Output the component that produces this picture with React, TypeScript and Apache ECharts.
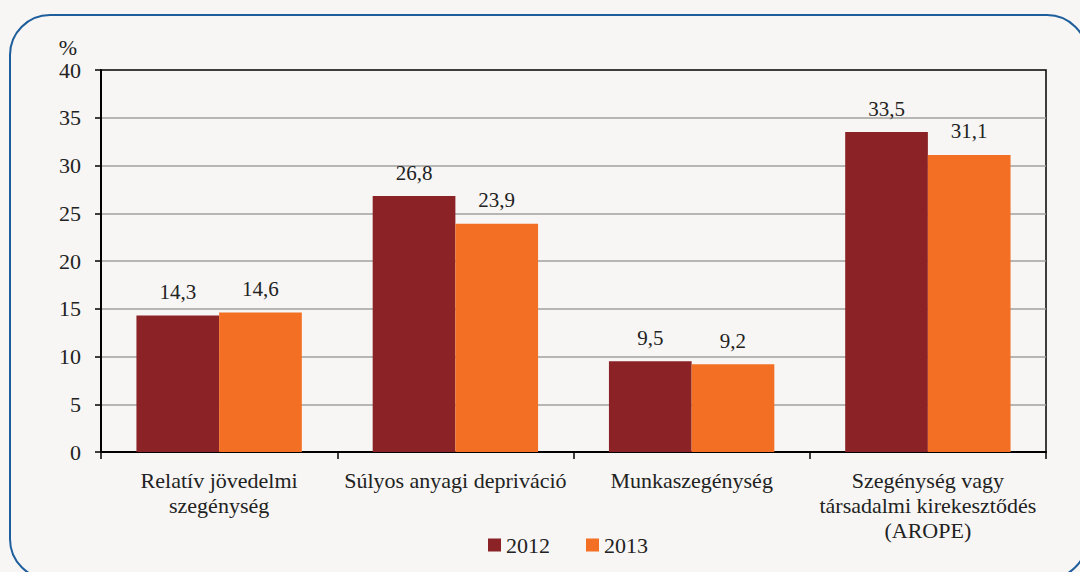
import React, { useEffect, useRef } from "react";
import * as echarts from "echarts";

const categories = [
  "Relatív jövedelmi\nszegénység",
  "Súlyos anyagi depriváció",
  "Munkaszegénység",
  "Szegénység vagy\ntársadalmi kirekesztődés\n(AROPE)",
];
const seriesNames = ["2012", "2013"];
const values2012 = [14.3, 26.8, 9.5, 33.5];
const values2013 = [14.6, 23.9, 9.2, 31.1];
const colors = ["#8b2226", "#f36f24"];

const FONT = "Liberation Serif";

export default function App() {
  const ref = useRef<HTMLDivElement>(null);
  useEffect(() => {
    document.body.style.margin = "0";
    const chart = echarts.init(ref.current!, null, { renderer: "svg" });
    const labelFmt = (p: any) => String(p.value).replace(".", ",");
    const dataLabel = {
      show: true,
      position: "top",
      distance: 13,
      formatter: labelFmt,
      fontFamily: FONT,
      fontSize: 21,
      color: "#222",
    };
    chart.setOption({
      animation: false,
      backgroundColor: "#f7f6f4",
      textStyle: { fontFamily: FONT },
      graphic: [
        {
          type: "rect",
          z: -1,
          shape: { x: 10, y: 15, width: 1077, height: 564, r: 40 },
          style: { fill: "none", stroke: "#1f5e9c", lineWidth: 2 },
        },
        {
          type: "text",
          x: 68,
          y: 47,
          style: {
            text: "%",
            fontFamily: FONT,
            fontSize: 22,
            fill: "#222",
            align: "center",
            verticalAlign: "middle",
          },
        },
      ],
      legend: {
        left: 483,
        top: 529,
        itemWidth: 13,
        itemHeight: 13,
        itemGap: 36,
        icon: "rect",
        textStyle: { fontFamily: FONT, fontSize: 22, color: "#222" },
        data: seriesNames,
      },
      grid: {
        left: 101,
        right: 34,
        top: 70,
        bottom: 120,
        show: true,
        borderColor: "#000",
        borderWidth: 1.5,
        backgroundColor: "transparent",
      },
      xAxis: {
        type: "category",
        data: categories,
        axisLine: { lineStyle: { color: "#000", width: 2 } },
        axisTick: { show: true, length: 7, lineStyle: { color: "#000", width: 1.5 } },
        axisLabel: {
          fontFamily: FONT,
          fontSize: 22,
          color: "#222",
          lineHeight: 25,
          margin: 16,
          interval: 0,
        },
      },
      yAxis: {
        type: "value",
        min: 0,
        max: 40,
        interval: 5,
        axisLine: { show: true, lineStyle: { color: "#000", width: 2 } },
        axisTick: { show: true, length: 6, lineStyle: { color: "#000", width: 1.5 } },
        axisLabel: { fontFamily: FONT, fontSize: 22, color: "#222", margin: 20 },
        splitLine: {
          show: true,
          showMinLine: false,
          showMaxLine: false,
          lineStyle: { color: "#a0a0a0", width: 1.5 },
        },
      },
      series: [
        {
          name: seriesNames[0],
          type: "bar",
          data: values2012,
          itemStyle: { color: colors[0] },
          barGap: "0%",
          barCategoryGap: "30%",
          label: dataLabel,
        },
        {
          name: seriesNames[1],
          type: "bar",
          data: values2013,
          itemStyle: { color: colors[1] },
          barGap: "0%",
          barCategoryGap: "30%",
          label: dataLabel,
        },
      ],
    });
    return () => chart.dispose();
  }, []);
  return <div ref={ref} style={{ width: 1080, height: 572 }} />;
}
